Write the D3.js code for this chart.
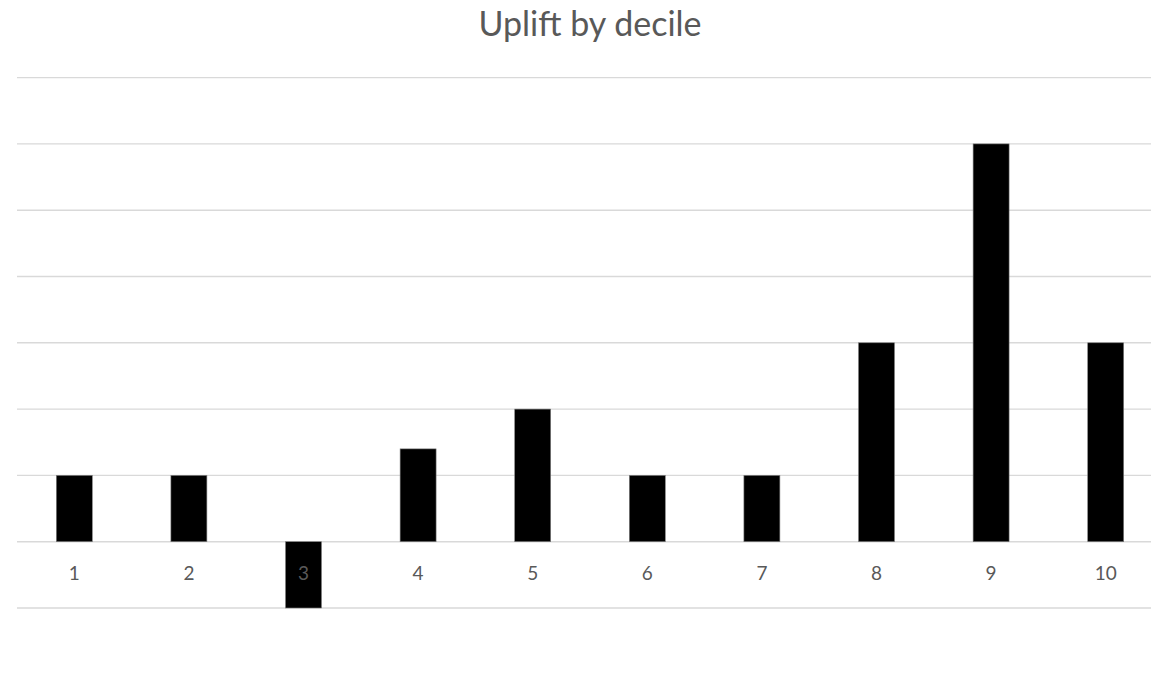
<!DOCTYPE html>
<html>
<head>
<meta charset="utf-8">
<script src="https://cdn.jsdelivr.net/npm/d3@7"></script>
<style>
  html, body { margin: 0; padding: 0; background: #fff; }
  svg { display: block; }
</style>
</head>
<body>
<svg id="chart" width="1151" height="673"></svg>
<script>
// Uplift per decile (deciles 1..10)
const deciles = ["1", "2", "3", "4", "5", "6", "7", "8", "9", "10"];
const uplift = [1, 1, -1, 1.4, 2, 1, 1, 3, 6, 3];
const gridValues = [-1, 0, 1, 2, 3, 4, 5, 6, 7];
const chartTitle = "Uplift by decile";

const svg = d3.select("#chart");
const font = "Lato, Carlito, 'Open Sans', sans-serif";

const x = d3.scaleBand()
  .domain(deciles)
  .range([17, 1163])
  .paddingInner(0.686)
  .paddingOuter(0.343);

const y = d3.scaleLinear()
  .domain([-1, 7])
  .range([608, 77.6]);

// horizontal gridlines
svg.append("g")
  .selectAll("line")
  .data(gridValues)
  .join("line")
  .attr("x1", 17)
  .attr("x2", 1151)
  .attr("y1", d => y(d))
  .attr("y2", d => y(d))
  .attr("stroke", "#d9d9d9")
  .attr("stroke-width", 1.4);

// bars
svg.append("g")
  .selectAll("rect")
  .data(deciles.map((d, i) => ({ d, v: uplift[i] })))
  .join("rect")
  .attr("x", p => x(p.d))
  .attr("width", x.bandwidth())
  .attr("y", p => y(Math.max(0, p.v)))
  .attr("height", p => Math.abs(y(p.v) - y(0)))
  .attr("fill", "#000")
  .attr("stroke", "#7f7f7f")
  .attr("stroke-width", 0.6);

// category labels below the zero line
const xAxis = d3.axisBottom(x).tickSize(0).tickPadding(0);
const gx = svg.append("g")
  .attr("transform", `translate(0,${y(0)})`)
  .call(xAxis);
gx.select(".domain").remove();
gx.selectAll("text")
  .attr("y", 38)
  .attr("dy", null)
  .attr("fill", "#595959")
  .style("font-family", font)
  .style("font-size", "19px");

// title
svg.append("text")
  .attr("x", 590)
  .attr("y", 36)
  .attr("text-anchor", "middle")
  .attr("fill", "#595959")
  .style("font-family", font)
  .style("font-size", "34px")
  .text(chartTitle);
</script>
</body>
</html>
